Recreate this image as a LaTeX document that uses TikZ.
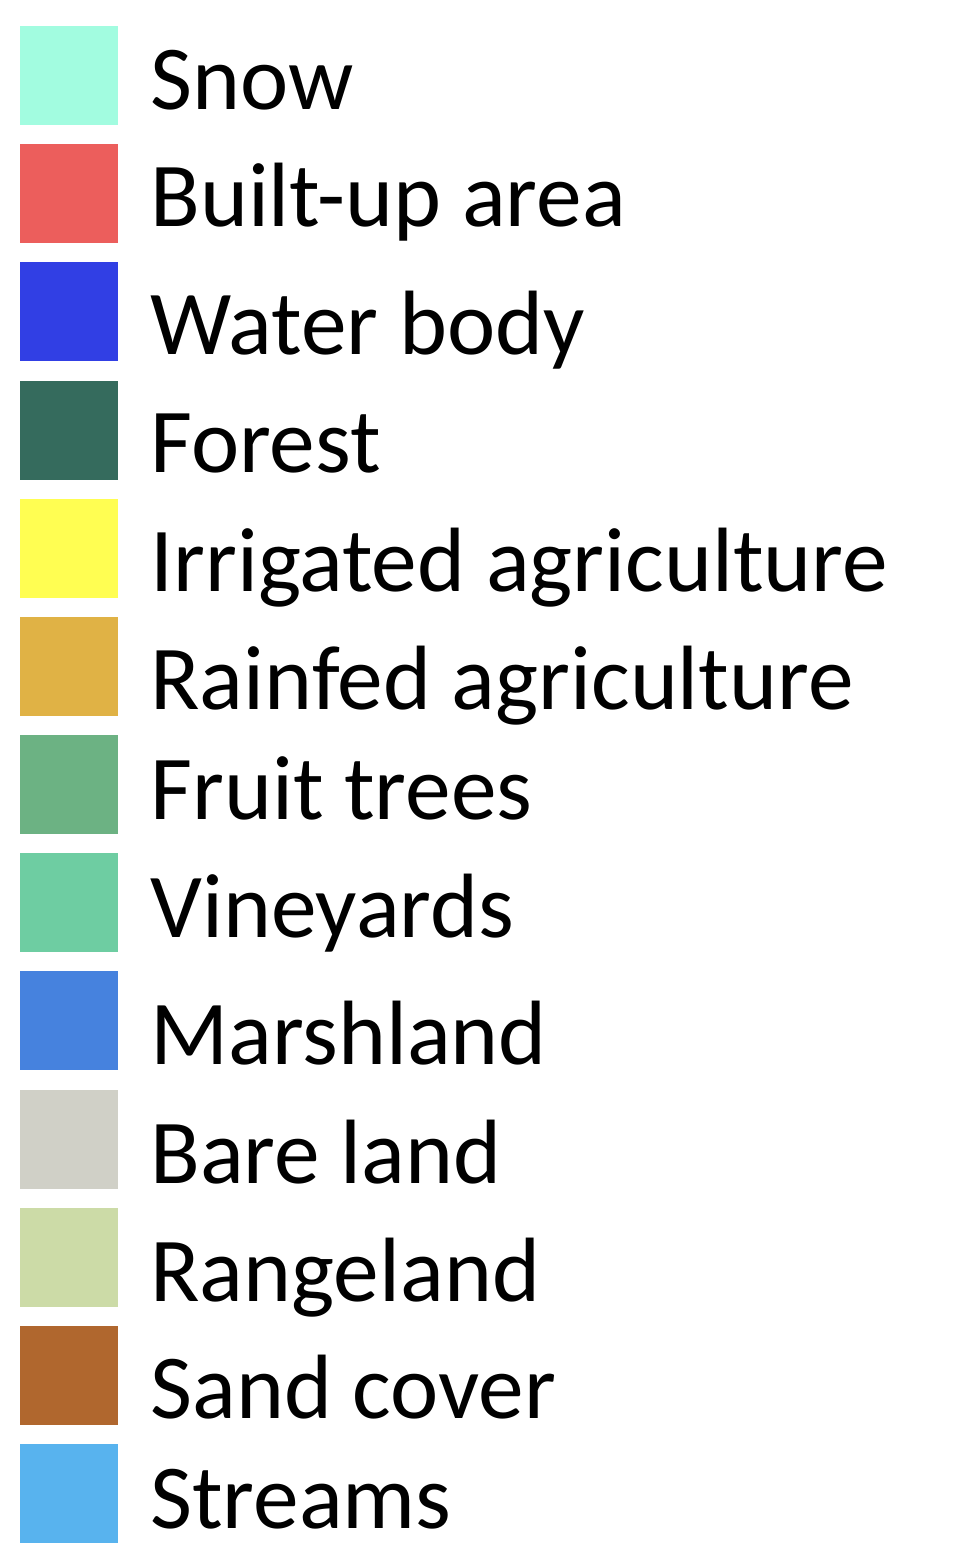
\documentclass[tikz,border=0pt]{standalone}
\usepackage{fontspec}
\setmainfont{Carlito}
\usepackage{tikz}
\usetikzlibrary{positioning}

\definecolor{snowc}{HTML}{A2FCE0}
\definecolor{builtc}{HTML}{EC5E5C}
\definecolor{waterc}{HTML}{313FE4}
\definecolor{forestc}{HTML}{356B5D}
\definecolor{irrigc}{HTML}{FFFE52}
\definecolor{rainc}{HTML}{E0B245}
\definecolor{fruitc}{HTML}{6CB283}
\definecolor{vinec}{HTML}{6ECDA2}
\definecolor{marshc}{HTML}{4682DE}
\definecolor{barec}{HTML}{D0D0C7}
\definecolor{rangec}{HTML}{CCDBA7}
\definecolor{sandc}{HTML}{B0672E}
\definecolor{streamc}{HTML}{58B3EE}

\begin{document}
\begin{tikzpicture}[
    x=0.02cm, y=-0.02cm,
    node distance=0.37cm,
    swatch/.style={rectangle, inner sep=0pt, minimum width=1.96cm, minimum height=1.98cm},
    label/.style={anchor=base west, inner sep=0pt, font=\fontsize{52}{60}\selectfont}
]
\useasboundingbox (0,0) rectangle (974,1564);

% colour boxes
\node[swatch, fill=snowc] (snow) at (69,75.5) {};
\node[swatch, fill=builtc, below=of snow] (built) {};
\node[swatch, fill=waterc, below=of built] (water) {};
\node[swatch, fill=forestc, below=of water] (forest) {};
\node[swatch, fill=irrigc, below=of forest] (irrig) {};
\node[swatch, fill=rainc, below=of irrig] (rain) {};
\node[swatch, fill=fruitc, below=of rain] (fruit) {};
\node[swatch, fill=vinec, below=of fruit] (vine) {};
\node[swatch, fill=marshc, below=of vine] (marsh) {};
\node[swatch, fill=barec, below=of marsh] (bare) {};
\node[swatch, fill=rangec, below=of bare] (range) {};
\node[swatch, fill=sandc, below=of range] (sand) {};
\node[swatch, fill=streamc, below=of sand] (stream) {};

% class names
\node[label] (snowtxt) at (150,110) {Snow};
\node[label] (builttxt) at (150,227) {Built-up area};
\node[label] (watertxt) at (150,355) {Water body};
\node[label] (foresttxt) at (150,472) {Forest};
\node[label] (irrigtxt) at (150,591) {Irrigated agriculture};
\node[label] (raintxt) at (150,709) {Rainfed agriculture};
\node[label] (fruittxt) at (150,819) {Fruit trees};
\node[label] (vinetxt) at (150,937) {Vineyards};
\node[label] (marshtxt) at (150,1064) {Marshland};
\node[label] (baretxt) at (150,1183) {Bare land};
\node[label] (rangetxt) at (150,1301) {Rangeland};
\node[label] (sandtxt) at (150,1418) {Sand cover};
\node[label] (streamtxt) at (150,1528) {Streams};

\end{tikzpicture}
\end{document}
